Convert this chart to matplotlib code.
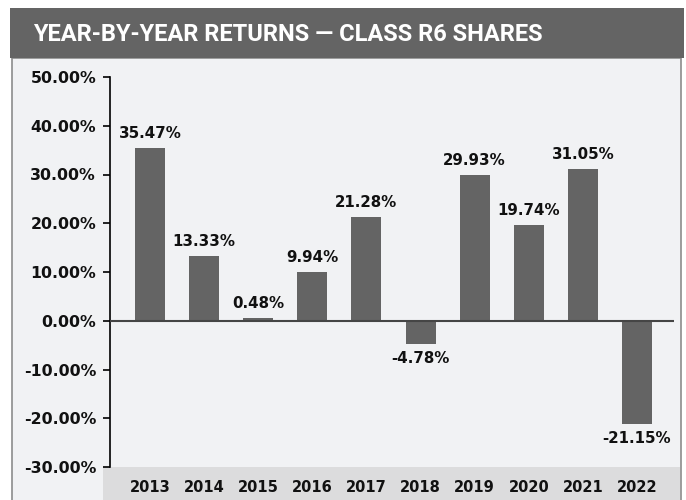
import matplotlib
matplotlib.use('Agg')
import matplotlib.pyplot as plt
from matplotlib.patches import Rectangle

years = ['2013', '2014', '2015', '2016', '2017', '2018', '2019', '2020', '2021', '2022']
returns = [35.47, 13.33, 0.48, 9.94, 21.28, -4.78, 29.93, 19.74, 31.05, -21.15]
yticks = [-30, -20, -10, 0, 10, 20, 30, 40, 50]
title = 'YEAR-BY-YEAR RETURNS \u2014 CLASS R6 SHARES'

W, H = 686, 500
DARK = '#646464'


def fx(x):
    return x / W


def fy(y):
    return 1 - y / H


fig = plt.figure(figsize=(W / 100, H / 100), dpi=100)
fig.patch.set_facecolor('white')

# light frame, header band, year band
fig.patches.append(Rectangle((fx(12), -0.01), fx(681) - fx(12), fy(58) + 0.01,
                             transform=fig.transFigure, facecolor='#f1f2f4',
                             edgecolor='#8c8c8c', lw=1.2, zorder=0))
fig.patches.append(Rectangle((fx(10), fy(58)), fx(684) - fx(10), fy(8) - fy(58),
                             transform=fig.transFigure, facecolor=DARK,
                             edgecolor='none', zorder=1))
fig.patches.append(Rectangle((fx(103), -0.01), fx(680) - fx(103), fy(467) + 0.01,
                             transform=fig.transFigure, facecolor='#dcdcdd',
                             edgecolor='none', zorder=1))

fig.text(fx(33), fy(34), title, color='white', fontsize=17, fontweight='bold',
         family=['Liberation Sans Narrow', 'Roboto', 'DejaVu Sans'],
         ha='left', va='center')

ax = fig.add_axes([fx(110), fy(467), fx(674) - fx(110), fy(77) - fy(467)])
ax.set_zorder(3)
ax.set_facecolor('none')
x = list(range(len(years)))
ax.bar(x, returns, width=0.555, color=DARK, zorder=2)
ax.axhline(0, color='#454545', lw=1.5, zorder=3)

for i, v in enumerate(returns):
    off = 5 if v >= 0 else -5
    ax.annotate(f'{v:.2f}%', (i, v), xytext=(0, off), textcoords='offset points',
                ha='center', va='bottom' if v >= 0 else 'top',
                fontsize=10.8, fontweight='bold', color='#111111')

ax.set_xlim(-0.739, 9.684)
ax.set_ylim(-30, 50)
ax.set_yticks(yticks)
ax.set_yticklabels([f'{t:.2f}%' for t in yticks], fontsize=11.3, fontweight='bold',
                   color='#111111')
ax.set_xticks(x)
ax.set_xticklabels(years, fontsize=10.5, fontweight='bold', color='#111111')
ax.tick_params(axis='x', length=0, pad=9)
ax.tick_params(axis='y', direction='out', length=5, width=1.2, pad=5)

for s in ['top', 'right', 'bottom']:
    ax.spines[s].set_visible(False)
ax.spines['left'].set_linewidth(1.2)

fig.savefig('out.png', dpi=100)
